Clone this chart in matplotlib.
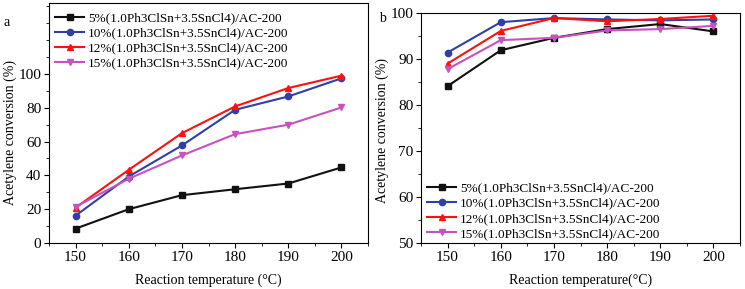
import matplotlib.pyplot as plt
from matplotlib.ticker import MultipleLocator

plt.rcParams['font.family'] = ['Liberation Serif', 'DejaVu Serif']

temps = [150, 160, 170, 180, 190, 200]
labels = ['5%(1.0Ph3ClSn+3.5SnCl4)/AC-200',
          '10%(1.0Ph3ClSn+3.5SnCl4)/AC-200',
          '12%(1.0Ph3ClSn+3.5SnCl4)/AC-200',
          '15%(1.0Ph3ClSn+3.5SnCl4)/AC-200']

# panel a
a_5 = [8.5, 20.0, 28.3, 31.8, 35.2, 44.7]
a_10 = [16.2, 39.3, 57.7, 78.8, 86.7, 97.4]
a_12 = [20.9, 43.3, 65.0, 80.8, 91.7, 99.0]
a_15 = [21.4, 38.0, 51.8, 64.4, 70.0, 80.2]

# panel b
b_5 = [84.1, 91.9, 94.6, 96.5, 97.6, 96.0]
b_10 = [91.4, 98.0, 98.9, 98.6, 98.4, 98.6]
b_12 = [89.0, 96.1, 98.9, 98.2, 98.7, 99.4]
b_15 = [87.8, 94.1, 94.6, 96.2, 96.5, 97.2]

colors = ['#111111', '#2f3fa8', '#ff1010', '#c652c0']
markers = ['s', 'o', '^', 'v']

fig = plt.figure(figsize=(7.45, 2.89), dpi=100)
ax1 = fig.add_axes([49 / 745, 46 / 289, 319 / 745, 240 / 289])
ax2 = fig.add_axes([421 / 745, 46 / 289, 319 / 745, 230 / 289])


def draw(ax, series):
    for ys, c, m, lab in zip(series, colors, markers, labels):
        ax.plot(temps, ys, color=c, marker=m, markersize=4.5, lw=1.5, label=lab)
    ax.set_xlim(145, 205)
    ax.xaxis.set_major_locator(MultipleLocator(10))
    ax.xaxis.set_minor_locator(MultipleLocator(5))
    ax.tick_params(which='both', direction='out', labelsize=11, top=False, right=False, pad=2)
    ax.tick_params(which='major', length=3.5)
    ax.tick_params(which='minor', length=2)
    ax.set_ylabel('Acetylene conversion (%)', fontsize=10)


leg_kw = dict(frameon=False, fontsize=9.5, handlelength=2.2, handletextpad=0.3,
              labelspacing=0.22, borderpad=0, borderaxespad=0)

draw(ax1, [a_5, a_10, a_12, a_15])
ax1.set_ylim(0, 142)
ax1.set_yticks([0, 20, 40, 60, 80, 100])
ax1.yaxis.set_minor_locator(MultipleLocator(10))
ax1.yaxis.set_label_coords(-0.10, 0.46)
ax1.set_xlabel('Reaction temperature (°C)', fontsize=10, labelpad=7)
ax1.legend(loc='upper left', bbox_to_anchor=(6 / 319, 1 - 9 / 240), **leg_kw)
fig.text(4 / 745, 1 - 23 / 289, 'a', fontsize=10, va='center', ha='left')

draw(ax2, [b_5, b_10, b_12, b_15])
ax2.set_ylim(50, 100)
ax2.yaxis.set_major_locator(MultipleLocator(10))
ax2.yaxis.set_minor_locator(MultipleLocator(5))
ax2.yaxis.set_label_coords(-0.10, 0.49)
ax2.set_xlabel('Reaction temperature(°C)', fontsize=10, labelpad=7)
ax2.legend(loc='lower left', bbox_to_anchor=(6 / 319, 3 / 230), **leg_kw)
fig.text(379 / 745, 1 - 18 / 289, 'b', fontsize=10, va='center', ha='left')

fig.savefig('out.png', dpi=100)
